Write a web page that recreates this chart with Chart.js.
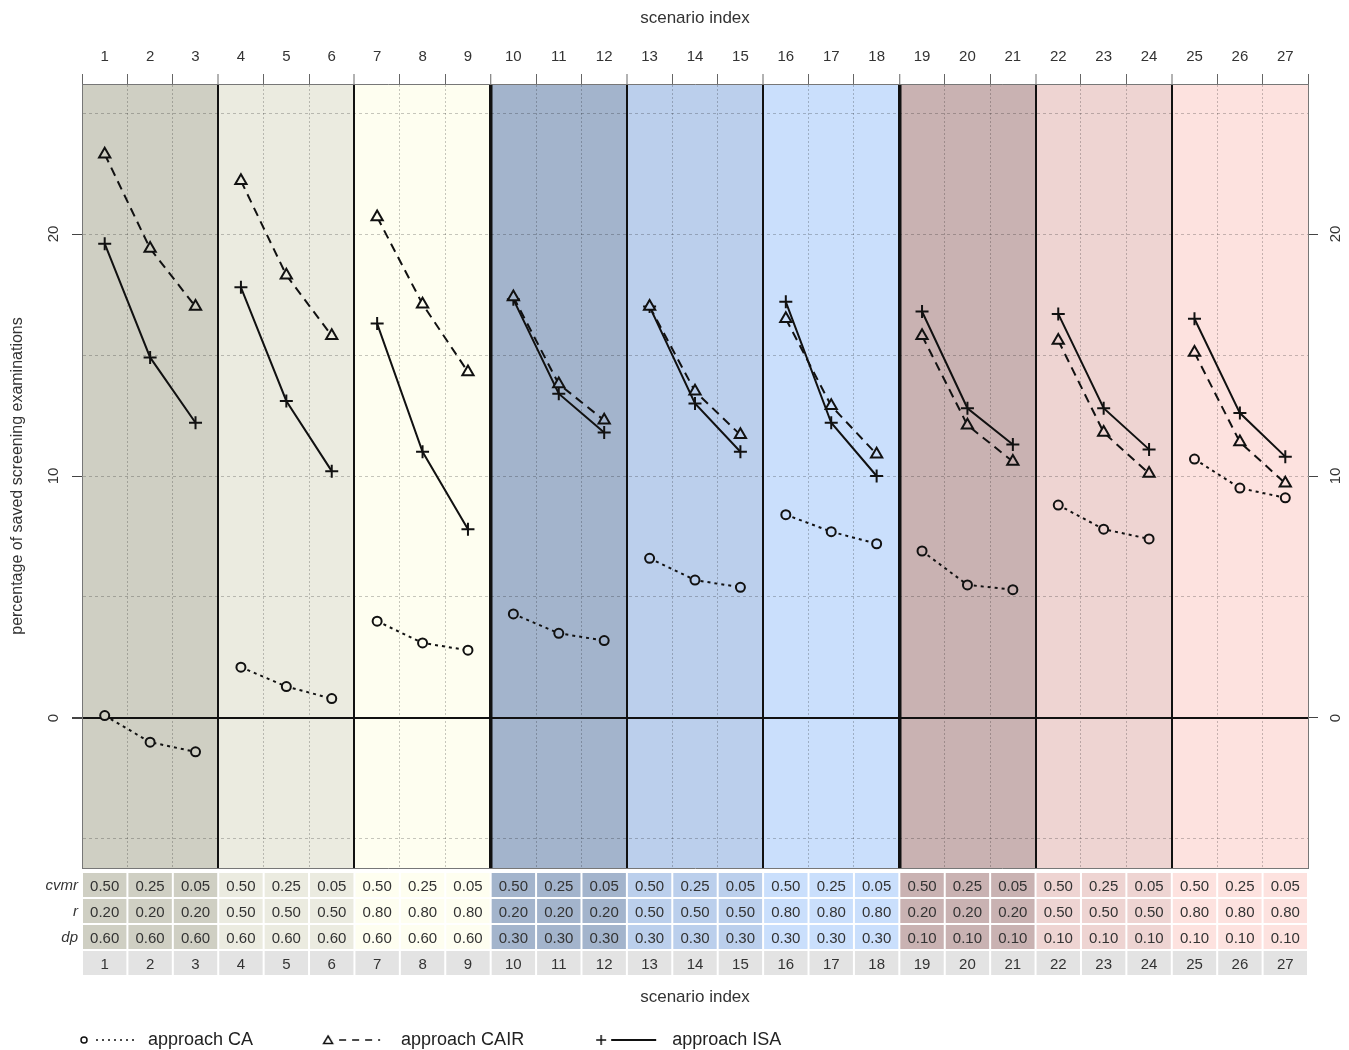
<!DOCTYPE html>
<html>
<head>
<meta charset="utf-8">
<title>saved screening examinations</title>
<script src="https://cdn.jsdelivr.net/npm/chart.js@4.4.1/dist/chart.umd.min.js"></script>
<style>
    html, body { margin: 0; padding: 0; background: #fff; }
    #wrap { width: 1349px; height: 1050px; }
</style>
</head>
<body>
<div id="wrap"><canvas id="chart" width="1349" height="1050"></canvas></div>
<script>
(function () {
    "use strict";

    // Scenario settings (table under the plot)
    var scenarios = [1, 2, 3, 4, 5, 6, 7, 8, 9, 10, 11, 12, 13, 14, 15, 16, 17, 18, 19, 20, 21, 22, 23, 24, 25, 26, 27];
    var cvmr = ['0.50', '0.25', '0.05', '0.50', '0.25', '0.05', '0.50', '0.25', '0.05',
                '0.50', '0.25', '0.05', '0.50', '0.25', '0.05', '0.50', '0.25', '0.05',
                '0.50', '0.25', '0.05', '0.50', '0.25', '0.05', '0.50', '0.25', '0.05'];
    var rCorr = ['0.20', '0.20', '0.20', '0.50', '0.50', '0.50', '0.80', '0.80', '0.80',
                 '0.20', '0.20', '0.20', '0.50', '0.50', '0.50', '0.80', '0.80', '0.80',
                 '0.20', '0.20', '0.20', '0.50', '0.50', '0.50', '0.80', '0.80', '0.80'];
    var dp = ['0.60', '0.60', '0.60', '0.60', '0.60', '0.60', '0.60', '0.60', '0.60',
              '0.30', '0.30', '0.30', '0.30', '0.30', '0.30', '0.30', '0.30', '0.30',
              '0.10', '0.10', '0.10', '0.10', '0.10', '0.10', '0.10', '0.10', '0.10'];
    var rowLabels = ['cvmr', 'r', 'dp'];

    // Background colour of each block of three scenarios
    var groupColors = ['#cfcfc3', '#ebebe0', '#fefef0', '#a3b4cc', '#bbcfec', '#cadffc', '#c9b2b2', '#eed4d2', '#fde2df'];

    // Percentage of saved screening examinations
    var caValues = [0.1, -1.0, -1.4, 2.1, 1.3, 0.8, 4.0, 3.1, 2.8,
                    4.3, 3.5, 3.2, 6.6, 5.7, 5.4, 8.4, 7.7, 7.2,
                    6.9, 5.5, 5.3, 8.8, 7.8, 7.4, 10.7, 9.5, 9.1];
    var cairValues = [23.3, 19.4, 17.0, 22.2, 18.3, 15.8, 20.7, 17.1, 14.3,
                      17.4, 13.8, 12.3, 17.0, 13.5, 11.7, 16.5, 12.9, 10.9,
                      15.8, 12.1, 10.6, 15.6, 11.8, 10.1, 15.1, 11.4, 9.7];
    var isaValues = [19.6, 14.9, 12.2, 17.8, 13.1, 10.2, 16.3, 11.0, 7.8,
                     17.3, 13.4, 11.8, 17.0, 13.0, 11.0, 17.2, 12.2, 10.0,
                     16.8, 12.8, 11.3, 16.7, 12.8, 11.1, 16.5, 12.6, 10.8];

    var yGridTicks = [-5, 0, 5, 10, 15, 20, 25];
    var yLabelTicks = [0, 10, 20];
    var yMin = -6.2, yMax = 26.2;

    var FONT = "'Liberation Sans', Arial, Helvetica, sans-serif";
    Chart.defaults.font.family = FONT;
    Chart.defaults.color = '#333';

    // one line per block of three, broken by a null point
    function withGaps(vals) {
        var pts = [];
        vals.forEach(function (v, i) {
            pts.push({x: scenarios[i], y: v});
            if (i % 3 === 2 && i < vals.length - 1) {
                pts.push({x: scenarios[i] + 0.5, y: null});
            }
        });
        return pts;
    }

    // marker fill = band colour, so the line does not run through the hollow marker
    function bandFill(c) {
        var g = Math.floor((c.raw.x - 1) / 3);
        return groupColors[g] || '#fff';
    }

    // half positions between scenarios: 0.5 .. 27.5
    var halfTicks = [];
    scenarios.forEach(function (s) { halfTicks.push(s - 0.5, s); });
    halfTicks.push(scenarios[scenarios.length - 1] + 0.5);

    function boundaryKind(v) {
        if (Number.isInteger(v)) return 'none';
        var k = v - 0.5;
        if (k === 0 || k === scenarios.length) return 'edge';
        if (k % 9 === 0) return 'thick';
        if (k % 3 === 0) return 'block';
        return 'minor';
    }

    // small pictures for the legend: marker + line sample
    function legendSample(kind) {
        var c = document.createElement('canvas');
        c.width = 134;
        c.height = 20;
        var g = c.getContext('2d');
        g.strokeStyle = '#111';
        g.lineWidth = 1.5;
        var cy = 10;
        if (kind === 'CA') {
            g.beginPath(); g.arc(79, cy, 3, 0, Math.PI * 2); g.stroke();
            g.setLineDash([2, 4]);
            g.beginPath(); g.moveTo(91, cy); g.lineTo(130, cy); g.stroke();
        } else if (kind === 'CAIR') {
            g.beginPath(); g.moveTo(70, cy - 4); g.lineTo(74.5, cy + 3.5); g.lineTo(65.5, cy + 3.5); g.closePath(); g.stroke();
            g.setLineDash([7, 6]);
            g.beginPath(); g.moveTo(81, cy); g.lineTo(122, cy); g.stroke();
        } else {
            g.beginPath(); g.moveTo(67, cy); g.lineTo(77, cy); g.moveTo(72, cy - 5); g.lineTo(72, cy + 5); g.stroke();
            g.lineWidth = 2;
            g.beginPath(); g.moveTo(82, cy); g.lineTo(127, cy); g.stroke();
        }
        return c;
    }

    var legendPics = {CA: legendSample('CA'), CAIR: legendSample('CAIR'), ISA: legendSample('ISA')};

    // Background bands, settings table and row names
    var tablePlugin = {
        id: 'scenarioTable',
        beforeDraw: function (chart) {
            var ctx = chart.ctx;
            var area = chart.chartArea;
            var x = chart.scales.x;
            ctx.save();
            ctx.fillStyle = '#ffffff';
            ctx.fillRect(0, 0, chart.width, chart.height);
            groupColors.forEach(function (col, g) {
                var x0 = x.getPixelForValue(g * 3 + 0.5);
                var x1 = x.getPixelForValue(g * 3 + 3.5);
                ctx.fillStyle = col;
                ctx.fillRect(x0, area.top, x1 - x0, area.bottom - area.top);
            });
            var rowTop = area.bottom + 5;
            scenarios.forEach(function (s, i) {
                var x0 = x.getPixelForValue(s - 0.5) + 1;
                var x1 = x.getPixelForValue(s + 0.5) - 1;
                for (var r = 0; r < 4; r++) {
                    ctx.fillStyle = r < 3 ? groupColors[Math.floor(i / 3)] : '#e3e3e3';
                    ctx.fillRect(x0, rowTop + r * 26, x1 - x0, 24);
                }
            });
            ctx.restore();
        },
        afterDraw: function (chart) {
            var ctx = chart.ctx;
            var area = chart.chartArea;
            ctx.save();
            ctx.font = 'italic 15px ' + FONT;
            ctx.fillStyle = '#333';
            ctx.textAlign = 'right';
            ctx.textBaseline = 'middle';
            rowLabels.forEach(function (lab, r) {
                ctx.fillText(lab, area.left - 4, area.bottom + 18 + r * 26);
            });
            ctx.restore();
        }
    };

    var ctx = document.getElementById('chart').getContext('2d');
    var chart = new Chart(ctx, {
        type: 'line',
        data: {
            datasets: [{
                label: 'approach CA',
                data: withGaps(caValues),
                borderColor: '#111',
                borderWidth: 2,
                borderDash: [3, 4],
                pointStyle: 'circle',
                pointRadius: 4.5,
                pointBorderWidth: 2,
                pointBackgroundColor: bandFill,
                pointBorderColor: '#111'
            }, {
                label: 'approach CAIR',
                data: withGaps(cairValues),
                borderColor: '#111',
                borderWidth: 2,
                borderDash: [9, 6],
                pointStyle: 'triangle',
                pointRadius: 6.5,
                pointBorderWidth: 2,
                pointBackgroundColor: bandFill,
                pointBorderColor: '#111'
            }, {
                label: 'approach ISA',
                data: withGaps(isaValues),
                borderColor: '#111',
                borderWidth: 2,
                pointStyle: 'cross',
                pointRadius: 6.5,
                pointBorderWidth: 2,
                pointBackgroundColor: 'rgba(0,0,0,0)',
                pointBorderColor: '#111'
            }]
        },
        options: {
            responsive: false,
            animation: false,
            events: [],
            spanGaps: false,
            layout: {autoPadding: false, padding: {left: 0, right: 0, top: 0, bottom: -9}},
            scales: {
                x: {
                    type: 'linear',
                    position: 'top',
                    min: 0.5,
                    max: 27.5,
                    afterBuildTicks: function (scale) {
                        scale.ticks = halfTicks.map(function (v) { return {value: v}; });
                    },
                    afterFit: function (scale) { scale.height = 84; },
                    ticks: {
                        autoSkip: false,
                        maxRotation: 0,
                        padding: 8,
                        font: {size: 15},
                        callback: function (v) { return Number.isInteger(v) ? String(v) : ''; }
                    },
                    grid: {
                        tickLength: 10,
                        color: function (c) {
                            var k = boundaryKind(c.tick.value);
                            if (k === 'none' || k === 'edge') return 'rgba(0,0,0,0)';
                            if (k === 'minor') return 'rgba(0,0,0,0.22)';
                            return '#111';
                        },
                        lineWidth: function (c) {
                            var k = boundaryKind(c.tick.value);
                            if (k === 'thick') return 3.5;
                            if (k === 'block') return 2;
                            return 1;
                        },
                        tickColor: function (c) {
                            return boundaryKind(c.tick.value) === 'none' ? 'rgba(0,0,0,0)' : '#666';
                        },
                        tickWidth: 1
                    },
                    border: {
                        display: true,
                        color: '#777',
                        width: 1,
                        dash: function (c) {
                            return boundaryKind(c.tick.value) === 'minor' ? [2, 2] : [];
                        }
                    },
                    title: {
                        display: true,
                        text: 'scenario index',
                        font: {size: 17},
                        padding: {top: 8, bottom: 0}
                    }
                },
                xb: {
                    type: 'linear',
                    position: 'bottom',
                    min: 0.5,
                    max: 27.5,
                    afterBuildTicks: function (scale) {
                        scale.ticks = scenarios.map(function (s) { return {value: s}; });
                    },
                    afterFit: function (scale) { scale.height = 158; },
                    ticks: {
                        autoSkip: false,
                        maxRotation: 0,
                        padding: -2,
                        color: '#333',
                        font: {size: 15, lineHeight: '26px'},
                        callback: function (v) {
                            var i = scenarios.indexOf(v);
                            if (i < 0) return '';
                            return [cvmr[i], rCorr[i], dp[i], String(scenarios[i])];
                        }
                    },
                    grid: {display: false},
                    border: {display: true, color: '#777', width: 1},
                    title: {
                        display: true,
                        text: 'scenario index',
                        font: {size: 17},
                        padding: {top: 0, bottom: 18}
                    }
                },
                y: {
                    type: 'linear',
                    position: 'left',
                    min: yMin,
                    max: yMax,
                    afterBuildTicks: function (scale) {
                        scale.ticks = yGridTicks.map(function (v) { return {value: v}; });
                    },
                    afterFit: function (scale) { scale.width = 82; },
                    ticks: {
                        minRotation: 90,
                        maxRotation: 90,
                        crossAlign: 'center',
                        padding: 10,
                        font: {size: 15},
                        callback: function (v) { return yLabelTicks.indexOf(v) >= 0 ? String(v) : ''; }
                    },
                    grid: {
                        tickLength: 10,
                        color: function (c) { return c.tick.value === 0 ? '#111' : 'rgba(0,0,0,0.22)'; },
                        lineWidth: function (c) { return c.tick.value === 0 ? 2 : 1; },
                        tickColor: function (c) { return yLabelTicks.indexOf(c.tick.value) >= 0 ? '#444' : 'rgba(0,0,0,0)'; }
                    },
                    border: {
                        display: true,
                        color: '#777',
                        width: 1,
                        dash: function (c) { return c.tick.value === 0 ? [] : [3, 3]; }
                    },
                    title: {
                        display: true,
                        text: 'percentage of saved screening examinations',
                        font: {size: 16},
                        padding: {top: 8, bottom: 0}
                    }
                },
                yr: {
                    type: 'linear',
                    position: 'right',
                    min: yMin,
                    max: yMax,
                    afterBuildTicks: function (scale) {
                        scale.ticks = yLabelTicks.map(function (v) { return {value: v}; });
                    },
                    afterFit: function (scale) { scale.width = 41; },
                    ticks: {
                        minRotation: 90,
                        maxRotation: 90,
                        crossAlign: 'center',
                        padding: 10,
                        font: {size: 15}
                    },
                    grid: {drawOnChartArea: false, tickLength: 10, tickColor: '#444'},
                    border: {display: true, color: '#777', width: 1}
                }
            },
            plugins: {
                tooltip: {enabled: false},
                legend: {
                    display: true,
                    position: 'bottom',
                    align: 'start',
                    labels: {
                        usePointStyle: true,
                        pointStyleWidth: 134,
                        padding: 5,
                        color: '#222',
                        font: {size: 18},
                        generateLabels: function () {
                            return [
                                {text: 'approach CA', pointStyle: legendPics.CA, fontColor: '#222', lineWidth: 0, strokeStyle: 'rgba(0,0,0,0)', fillStyle: 'rgba(0,0,0,0)', datasetIndex: 0},
                                {text: 'approach CAIR', pointStyle: legendPics.CAIR, fontColor: '#222', lineWidth: 0, strokeStyle: 'rgba(0,0,0,0)', fillStyle: 'rgba(0,0,0,0)', datasetIndex: 1},
                                {text: 'approach ISA', pointStyle: legendPics.ISA, fontColor: '#222', lineWidth: 0, strokeStyle: 'rgba(0,0,0,0)', fillStyle: 'rgba(0,0,0,0)', datasetIndex: 2}
                            ];
                        }
                    }
                }
            }
        },
        plugins: [tablePlugin]
    });

})();
</script>
</body>
</html>
